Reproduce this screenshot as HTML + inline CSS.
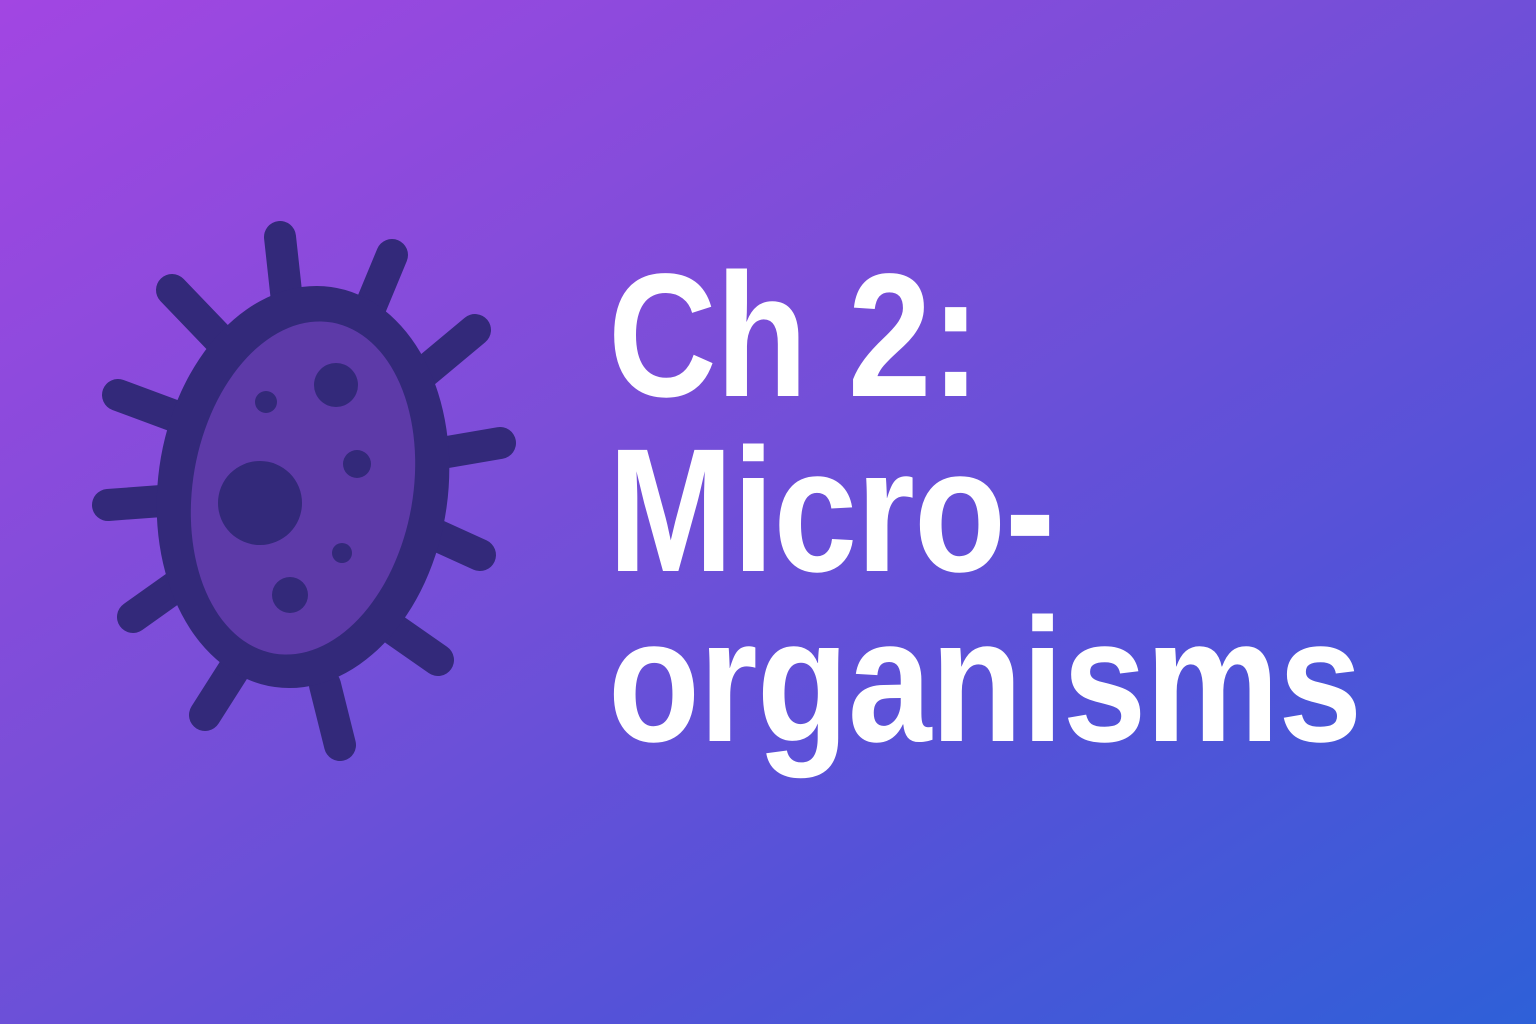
<!DOCTYPE html>
<html><head><meta charset="utf-8"><style>
html,body{margin:0;padding:0;width:1536px;height:1024px;overflow:hidden}
body{background:linear-gradient(148deg,#a246e2 0%,#7a4ed8 40%,#5552d8 70%,#2e60d8 100%);position:relative;font-family:"Liberation Sans",sans-serif}
.t{position:absolute;left:608px;color:#fff;font-weight:bold;font-size:176px;line-height:1;letter-spacing:-1px;white-space:nowrap;transform:scaleX(0.855);transform-origin:0 0}
</style></head><body>
<svg width="600" height="800" style="position:absolute;left:0;top:0" viewBox="0 0 600 800">
<g stroke="#33297a" stroke-width="32" stroke-linecap="round">
<line x1="280" y1="237" x2="288" y2="310"/>
<line x1="392" y1="255" x2="365" y2="320"/>
<line x1="475" y1="330" x2="415" y2="380"/>
<line x1="500" y1="443" x2="430" y2="455"/>
<line x1="480" y1="555" x2="425" y2="530"/>
<line x1="438" y1="660" x2="395" y2="630"/>
<line x1="340" y1="745" x2="325" y2="685"/>
<line x1="205" y1="715" x2="240" y2="660"/>
<line x1="133" y1="617" x2="185" y2="580"/>
<line x1="108" y1="505" x2="175" y2="500"/>
<line x1="118" y1="395" x2="180" y2="418"/>
<line x1="172" y1="290" x2="220" y2="340"/>
</g>
<ellipse cx="303" cy="487" rx="145" ry="202" fill="#33297a" transform="rotate(8 303 487)"/>
<ellipse cx="303" cy="488" rx="110" ry="168" fill="#5d3aa8" transform="rotate(10 303 488)"/>
<g fill="#33297a">
<circle cx="336" cy="385" r="22"/>
<circle cx="266" cy="402" r="11"/>
<circle cx="260" cy="503" r="42"/>
<circle cx="357" cy="464" r="14"/>
<circle cx="342" cy="553" r="10"/>
<circle cx="290" cy="595" r="18"/>
</g>
</svg>
<div class="t" style="top:248px">Ch 2:</div>
<div class="t" style="top:423px">Micro-</div>
<div class="t" style="top:593px">organisms</div>
</body></html>
